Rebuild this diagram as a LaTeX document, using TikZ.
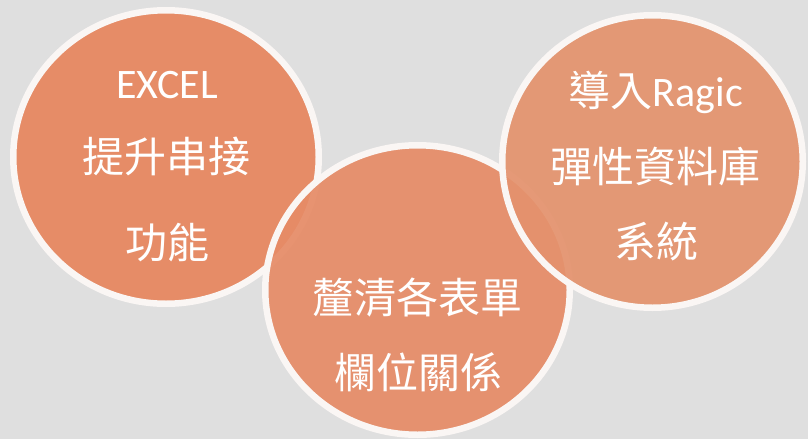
\documentclass[tikz,border=0pt]{standalone}
\usepackage{fontspec}
\setmainfont{Carlito}
\newfontfamily\cjk{Noto Sans CJK TC}
\usepackage{tikz}
\usetikzlibrary{shapes.geometric}
\definecolor{bg}{RGB}{223,223,223}
\definecolor{rim}{RGB}{250,246,244}
\definecolor{fillA}{RGB}{231,133,93}
\definecolor{fillB}{RGB}{230,139,102}
\definecolor{fillC}{RGB}{228,146,109}

\begin{document}
\begin{tikzpicture}
  [x=1pt,y=-1pt,
   bubble/.style={ellipse, draw=rim, line width=6.5pt, fill opacity=0.92, inner sep=0pt},
   words/.style={anchor=base, text=white, inner sep=0pt, font=\fontsize{42}{50}\selectfont}]
  \fill [bg] (0,0) rectangle (808,439);
  \useasboundingbox (0,0) rectangle (808,439);

  \node [bubble, fill=fillA, minimum width=305.5pt, minimum height=293.5pt] (A) at (166,157) {};
  \node [bubble, fill=fillB, minimum width=304.5pt, minimum height=289.5pt] (B) at (417.5,290) {};
  \node [bubble, fill=fillC, minimum width=300.5pt, minimum height=292.5pt] (C) at (652.5,161.5) {};

  \node [words] (A1) at (167,98)  {EXCEL};
  \node [words] (A2) at (166,172) {\cjk 提升串接};
  \node [words] (A3) at (167,258) {\cjk 功能};

  \node [words] (B1) at (417,313) {\cjk 釐清各表單};
  \node [words] (B2) at (418,388) {\cjk 欄位關係};

  \node [words] (C1) at (656,106) {{\cjk 導入}Ragic};
  \node [words] (C2) at (655,182) {\cjk 彈性資料庫};
  \node [words] (C3) at (656,257) {\cjk 系統};

\end{tikzpicture}
\end{document}
